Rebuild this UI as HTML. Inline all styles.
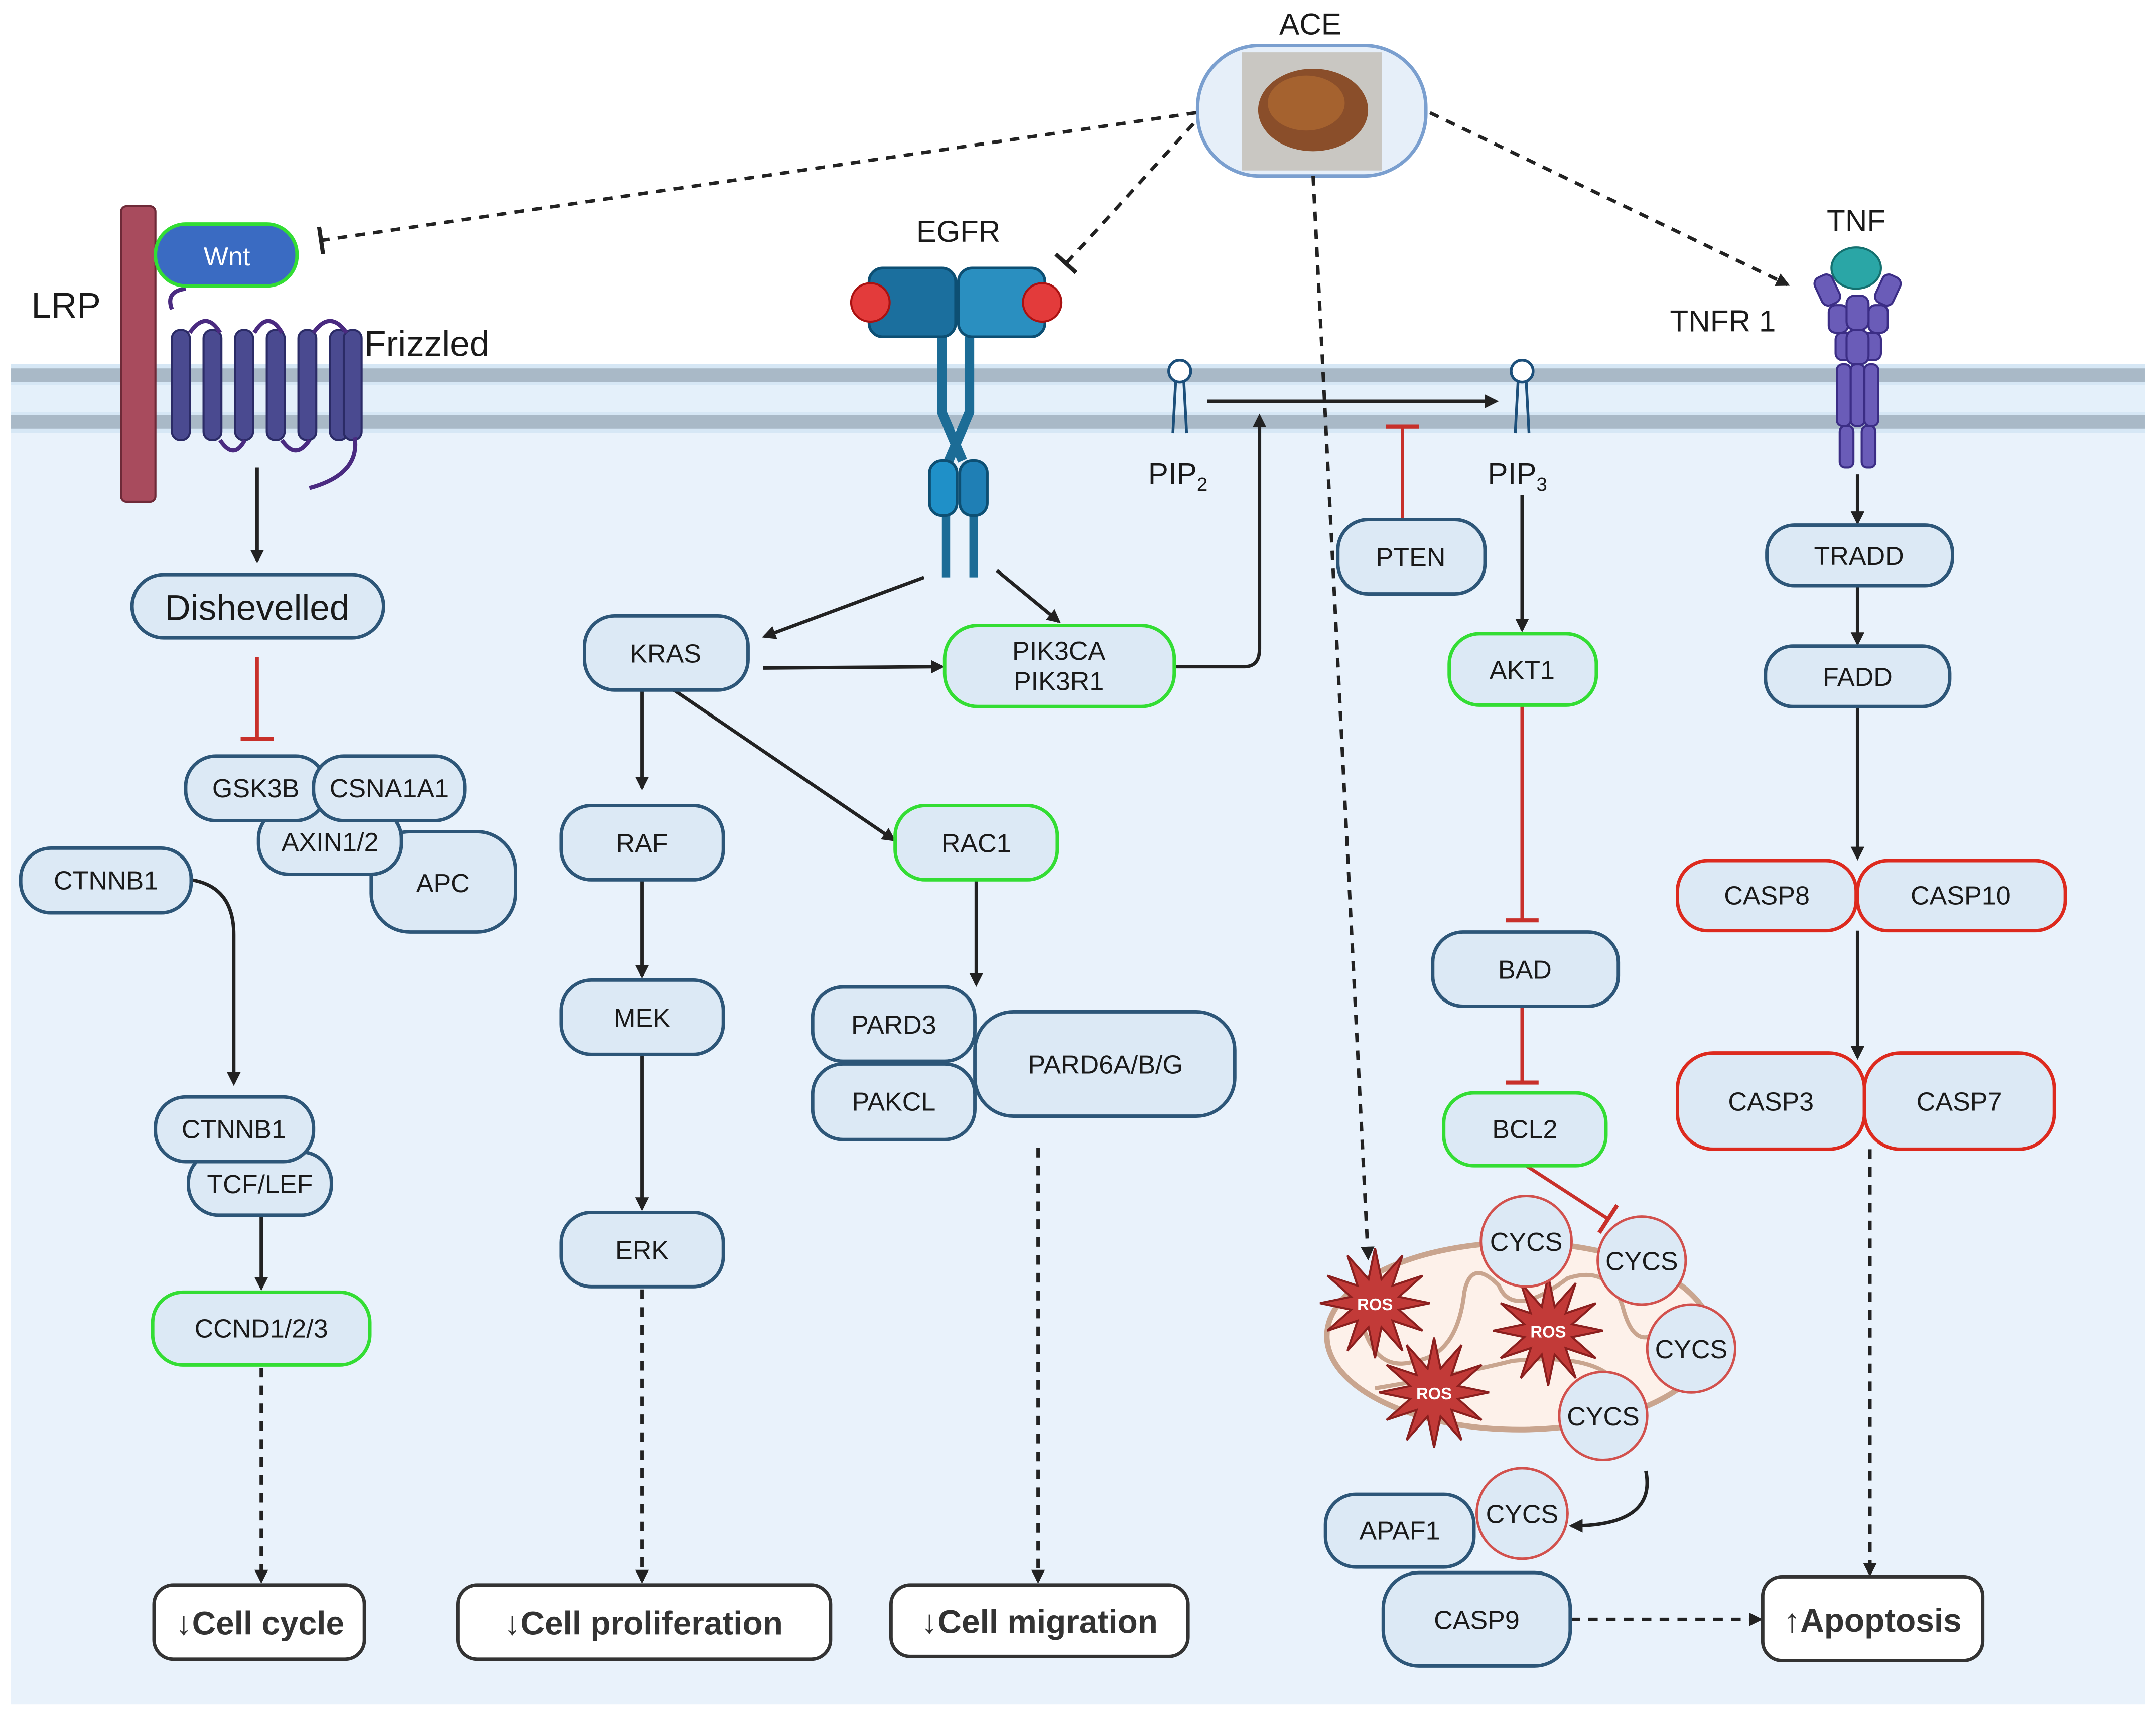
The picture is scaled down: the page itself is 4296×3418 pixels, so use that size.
<!DOCTYPE html>
<html><head><meta charset="utf-8"><style>
html,body{margin:0;padding:0;background:#fff}
svg{display:block}
text{font-family:"Liberation Sans",Arial,sans-serif;fill:#1a1a1a}
</style></head><body>
<svg width="4296" height="3418" viewBox="0 0 1568 1247.6" xmlns="http://www.w3.org/2000/svg">
<defs>
<marker id="ar" markerWidth="10" markerHeight="10" refX="8" refY="5" orient="auto" markerUnits="userSpaceOnUse"><path d="M0,0 L10,5 L0,10 z" fill="#222"/></marker>
<marker id="tb" markerWidth="4" markerHeight="20" refX="2" refY="10" orient="auto" markerUnits="userSpaceOnUse"><rect x="0" y="0" width="3" height="20" fill="#222"/></marker>
<marker id="tr" markerWidth="4" markerHeight="24" refX="2" refY="12" orient="auto" markerUnits="userSpaceOnUse"><rect x="0" y="0" width="3" height="24" fill="#c8302a"/></marker>
<polygon id="star" points="40,0 17.4,4.7 34.6,20 12.7,12.7 20,34.6 4.7,17.4 0,40 -4.7,17.4 -20,34.6 -12.7,12.7 -34.6,20 -17.4,4.7 -40,0 -17.4,-4.7 -34.6,-20 -12.7,-12.7 -20,-34.6 -4.7,-17.4 0,-40 4.7,-17.4 20,-34.6 12.7,-12.7 34.6,-20 17.4,-4.7" fill="#c23a38" stroke="#8a1f1e" stroke-width="1.5"/>
</defs>
<!-- cell -->
<rect x="8" y="265" width="1552" height="975" fill="#e9f2fb"/>
<rect x="8" y="265" width="1552" height="50" fill="#d6e7f5"/>
<rect x="8" y="268" width="1552" height="10" fill="#a9b9c7"/>
<rect x="8" y="302" width="1552" height="10" fill="#a9b9c7"/>
<rect x="8" y="280" width="1552" height="20" fill="#e4f0fa"/>

<!-- LRP / Frizzled -->
<rect x="88" y="150" width="25" height="215" rx="4" fill="#a84b5d" stroke="#6e2a38" stroke-width="1.5"/>
<text x="48" y="231" font-size="26" text-anchor="middle">LRP</text>
<g fill="#4a4a90" stroke="#2b2b66" stroke-width="1.5">
<rect x="125" y="240" width="13" height="80" rx="6"/><rect x="148" y="240" width="13" height="80" rx="6"/><rect x="171" y="240" width="13" height="80" rx="6"/><rect x="194" y="240" width="13" height="80" rx="6"/><rect x="217" y="240" width="13" height="80" rx="6"/><rect x="240" y="240" width="13" height="80" rx="6"/><rect x="250" y="240" width="13" height="80" rx="6"/>
</g>
<path d="M125,225 Q120,212 135,210 M138,242 Q150,225 160,242 M185,242 Q195,225 205,242 M228,242 Q240,225 252,242 M160,320 Q170,335 178,320 M205,320 Q215,335 225,320 M258,318 Q262,345 225,355" fill="none" stroke="#4a2a80" stroke-width="3"/>
<text x="265" y="259" font-size="26">Frizzled</text>
<rect x="113" y="163" width="103" height="45" rx="22" fill="#3a6bc2" stroke="#33dd33" stroke-width="2.5"/>
<text x="165" y="193" font-size="19" text-anchor="middle" style="fill:#fff">Wnt</text>

<!-- EGFR -->
<text x="697" y="176" font-size="22" text-anchor="middle">EGFR</text>
<g stroke="#0d4f73" stroke-width="2">
<path d="M685,245 L685,300 L700,335 M705,245 L705,300 L690,335" fill="none" stroke="#1c6c96" stroke-width="7"/>
<path d="M688,375 L688,420 M708,375 L708,420" stroke="#1c6c96" stroke-width="6"/>
<rect x="632" y="195" width="63" height="50" rx="10" fill="#1b6f9e"/>
<rect x="697" y="195" width="63" height="50" rx="10" fill="#2a8fc0"/>
<rect x="676" y="335" width="20" height="40" rx="9" fill="#1f90c8"/>
<rect x="698" y="335" width="20" height="40" rx="9" fill="#1f7fb5"/>
</g>
<circle cx="633" cy="220" r="14" fill="#e33b3b" stroke="#a11" stroke-width="1.5"/>
<circle cx="758" cy="220" r="14" fill="#e33b3b" stroke="#a11" stroke-width="1.5"/>

<!-- PIP -->
<g fill="none" stroke="#1c4f7a" stroke-width="2">
<circle cx="858" cy="270" r="8" fill="#fff"/><path d="M855,278 L853,315 M861,278 L863,315"/>
<circle cx="1107" cy="270" r="8" fill="#fff"/><path d="M1104,278 L1102,315 M1110,278 L1112,315"/>
</g>
<text x="835" y="352" font-size="22">PIP<tspan font-size="14" dy="5">2</tspan></text>
<text x="1082" y="352" font-size="22">PIP<tspan font-size="14" dy="5">3</tspan></text>

<!-- TNF -->
<text x="1350" y="168" font-size="22" text-anchor="middle">TNF</text>
<text x="1253" y="241" font-size="22" text-anchor="middle">TNFR 1</text>
<g fill="#6a5cb8" stroke="#3b2d85" stroke-width="1.5">
<rect x="1322" y="200" width="14" height="22" rx="5" transform="rotate(-25 1329 211)"/>
<rect x="1366" y="200" width="14" height="22" rx="5" transform="rotate(25 1373 211)"/>
<rect x="1330" y="222" width="14" height="20" rx="5"/><rect x="1359" y="222" width="14" height="20" rx="5"/>
<rect x="1343" y="215" width="16" height="25" rx="6"/>
<rect x="1335" y="242" width="14" height="20" rx="5"/><rect x="1354" y="242" width="14" height="20" rx="5"/>
<rect x="1343" y="240" width="16" height="25" rx="6"/>
<rect x="1336" y="265" width="10" height="45" rx="4"/><rect x="1346" y="265" width="10" height="45" rx="4"/><rect x="1356" y="265" width="10" height="45" rx="4"/>
<rect x="1338" y="310" width="10" height="30" rx="4"/><rect x="1354" y="310" width="10" height="30" rx="4"/>
</g>
<ellipse cx="1350" cy="195" rx="18" ry="15" fill="#2aa6a6" stroke="#14706f" stroke-width="1.5"/>

<!-- ACE -->
<text x="953" y="25" font-size="22" text-anchor="middle">ACE</text>
<rect x="871" y="33" width="166" height="95" rx="45" fill="#e6eff9" stroke="#7a9fcf" stroke-width="2.5"/>
<rect x="903" y="38" width="102" height="86" fill="#c9c7c2"/>
<ellipse cx="955" cy="80" rx="40" ry="30" fill="#8a4e2a"/>
<ellipse cx="950" cy="75" rx="28" ry="20" fill="#a5622f"/>

<!-- connectors -->
<g fill="none" stroke="#222" stroke-width="2.5">
<path d="M870,82 L233,175" stroke-dasharray="7,6" marker-end="url(#tb)"/>
<path d="M868,90 L775,192" stroke-dasharray="7,6" marker-end="url(#tb)"/>
<path d="M1040,82 L1300,207" stroke-dasharray="7,6" marker-end="url(#ar)"/>
<path d="M955,128 L995,915" stroke-dasharray="7,6" marker-end="url(#ar)"/>
<path d="M187,340 L187,408" marker-end="url(#ar)"/>
<path d="M139,640 Q170,645 170,680 L170,788" marker-end="url(#ar)"/>
<path d="M190,884 L190,937" marker-end="url(#ar)"/>
<path d="M190,995 L190,1150" stroke-dasharray="7,6" marker-end="url(#ar)"/>
<path d="M672,420 L556,463" marker-end="url(#ar)"/>
<path d="M725,415 L770,452" marker-end="url(#ar)"/>
<path d="M555,486 L685,485" marker-end="url(#ar)"/>
<path d="M854,485 L905,485 Q916,485 916,472 L916,303" marker-end="url(#ar)"/>
<path d="M878,292 L1088,292" marker-end="url(#ar)"/>
<path d="M467,502 L467,573" marker-end="url(#ar)"/>
<path d="M490,502 L650,611" marker-end="url(#ar)"/>
<path d="M467,640 L467,710" marker-end="url(#ar)"/>
<path d="M467,767 L467,879" marker-end="url(#ar)"/>
<path d="M710,640 L710,716" marker-end="url(#ar)"/>
<path d="M467,938 L467,1150" stroke-dasharray="7,6" marker-end="url(#ar)"/>
<path d="M755,835 L755,1150" stroke-dasharray="7,6" marker-end="url(#ar)"/>
<path d="M1107,360 L1107,458" marker-end="url(#ar)"/>
<path d="M1351,345 L1351,380" marker-end="url(#ar)"/>
<path d="M1351,426 L1351,468" marker-end="url(#ar)"/>
<path d="M1351,514 L1351,624" marker-end="url(#ar)"/>
<path d="M1351,677 L1351,769" marker-end="url(#ar)"/>
<path d="M1360,836 L1360,1145" stroke-dasharray="7,6" marker-end="url(#ar)"/>
<path d="M1142,1178 L1280,1178" stroke-dasharray="7,6" marker-end="url(#ar)"/>
<path d="M1197,1070 Q1205,1110 1143,1110" marker-end="url(#ar)"/>
</g>
<g fill="none" stroke="#c8302a" stroke-width="2.5">
<path d="M187,478 L187,538" marker-end="url(#tr)"/>
<path d="M1020,378 L1020,310" marker-end="url(#tr)"/>
<path d="M1107,513 L1107,670" marker-end="url(#tr)"/>
<path d="M1107,732 L1107,788" marker-end="url(#tr)"/>
<path d="M1110,848 L1170,887" marker-end="url(#tr)"/>
</g>

<!-- mitochondrion -->
<ellipse cx="1105" cy="972" rx="140" ry="68" fill="#fdf1ea" stroke="#c9a58f" stroke-width="4"/>
<path d="M990,960 Q1000,1000 1030,990 Q1060,985 1065,940 Q1070,915 1090,935 Q1100,960 1140,930 Q1170,920 1180,950 Q1190,990 1215,960" fill="none" stroke="#c9a58f" stroke-width="3"/>
<path d="M1000,1010 Q1060,1000 1100,990 Q1150,985 1170,1000" fill="none" stroke="#c9a58f" stroke-width="3"/>
<g font-size="12" font-weight="bold" text-anchor="middle">
<use href="#star" transform="translate(1000,948)"/><text x="1000" y="953" style="fill:#fff">ROS</text>
<use href="#star" transform="translate(1126,968)"/><text x="1126" y="973" style="fill:#fff">ROS</text>
<use href="#star" transform="translate(1043,1013)"/><text x="1043" y="1018" style="fill:#fff">ROS</text>
</g>
<g fill="#dce9f5" stroke="#d2514d" stroke-width="1.8">
<circle cx="1110" cy="903" r="33"/><circle cx="1194" cy="917" r="32"/><circle cx="1230" cy="981" r="32"/><circle cx="1166" cy="1030" r="32"/><circle cx="1107" cy="1101" r="33"/>
</g>
<g font-size="19" text-anchor="middle">
<text x="1110" y="910">CYCS</text><text x="1194" y="924">CYCS</text><text x="1230" y="988">CYCS</text><text x="1166" y="1037">CYCS</text>
</g>

<!-- nodes -->
<g stroke="#2d5678" stroke-width="2.5" fill="#dce9f5">
<rect x="96" y="418" width="183" height="46" rx="23"/>
<rect x="270" y="605" width="105" height="73" rx="28"/>
<rect x="188" y="588" width="104" height="48" rx="22"/>
<rect x="135" y="550" width="102" height="47" rx="22"/>
<rect x="228" y="550" width="110" height="47" rx="22"/>
<rect x="15" y="617" width="124" height="47" rx="22"/>
<rect x="137" y="838" width="104" height="46" rx="22"/>
<rect x="113" y="798" width="115" height="47" rx="22"/>
<rect x="111" y="940" width="158" height="53" rx="22" stroke="#33dd33"/>
<rect x="425" y="448" width="119" height="54" rx="22"/>
<rect x="687" y="455" width="167" height="59" rx="24" stroke="#33dd33"/>
<rect x="408" y="586" width="118" height="54" rx="22"/>
<rect x="408" y="713" width="118" height="54" rx="22"/>
<rect x="408" y="882" width="118" height="54" rx="22"/>
<rect x="651" y="586" width="118" height="54" rx="22" stroke="#33dd33"/>
<rect x="709" y="736" width="189" height="76" rx="28"/>
<rect x="591" y="718" width="118" height="54" rx="22"/>
<rect x="591" y="774" width="118" height="55" rx="22"/>
<rect x="973" y="378" width="107" height="54" rx="22"/>
<rect x="1054" y="461" width="107" height="52" rx="22" stroke="#33dd33"/>
<rect x="1042" y="678" width="135" height="54" rx="22"/>
<rect x="1050" y="795" width="118" height="53" rx="22" stroke="#33dd33"/>
<rect x="1285" y="382" width="135" height="44" rx="20"/>
<rect x="1284" y="470" width="134" height="44" rx="20"/>
<rect x="1220" y="626" width="130" height="51" rx="22" stroke="#dd2a1e"/>
<rect x="1351" y="626" width="151" height="51" rx="22" stroke="#dd2a1e"/>
<rect x="1220" y="766" width="136" height="70" rx="26" stroke="#dd2a1e"/>
<rect x="1356" y="766" width="138" height="70" rx="26" stroke="#dd2a1e"/>
<rect x="964" y="1087" width="108" height="53" rx="22"/>
<rect x="1006" y="1144" width="136" height="68" rx="26"/>
</g>
<circle cx="1107" cy="1101" r="33" fill="#dce9f5" stroke="#d2514d" stroke-width="1.8"/>
<text x="1107" y="1108" font-size="19" text-anchor="middle">CYCS</text>
<g font-size="19" text-anchor="middle">
<text x="187" y="451" font-size="26">Dishevelled</text>
<text x="322" y="649">APC</text>
<text x="240" y="619">AXIN1/2</text>
<text x="186" y="580">GSK3B</text>
<text x="283" y="580">CSNA1A1</text>
<text x="77" y="647">CTNNB1</text>
<text x="189" y="868">TCF/LEF</text>
<text x="170" y="828">CTNNB1</text>
<text x="190" y="973">CCND1/2/3</text>
<text x="484" y="482">KRAS</text>
<text x="770" y="480">PIK3CA</text><text x="770" y="502">PIK3R1</text>
<text x="467" y="620">RAF</text>
<text x="467" y="747">MEK</text>
<text x="467" y="916">ERK</text>
<text x="710" y="620">RAC1</text>
<text x="804" y="781">PARD6A/B/G</text>
<text x="650" y="752">PARD3</text>
<text x="650" y="808">PAKCL</text>
<text x="1026" y="412">PTEN</text>
<text x="1107" y="494">AKT1</text>
<text x="1109" y="712">BAD</text>
<text x="1109" y="828">BCL2</text>
<text x="1352" y="411">TRADD</text>
<text x="1351" y="499">FADD</text>
<text x="1285" y="658">CASP8</text>
<text x="1426" y="658">CASP10</text>
<text x="1288" y="808">CASP3</text>
<text x="1425" y="808">CASP7</text>
<text x="1018" y="1120">APAF1</text>
<text x="1074" y="1185">CASP9</text>
</g>
<!-- outcomes -->
<g fill="#fff" stroke="#333" stroke-width="2.5">
<rect x="112" y="1153" width="153" height="54" rx="14"/>
<rect x="333" y="1153" width="271" height="54" rx="14"/>
<rect x="648" y="1153" width="216" height="52" rx="14"/>
<rect x="1282" y="1147" width="160" height="61" rx="14"/>
</g>
<g font-size="24" font-weight="bold" text-anchor="middle">
<text x="189" y="1189" style="fill:#333">↓Cell cycle</text>
<text x="468" y="1189" style="fill:#333">↓Cell proliferation</text>
<text x="756" y="1188" style="fill:#333">↓Cell migration</text>
<text x="1362" y="1187" style="fill:#333">↑Apoptosis</text>
</g>
</svg>
</body></html>
